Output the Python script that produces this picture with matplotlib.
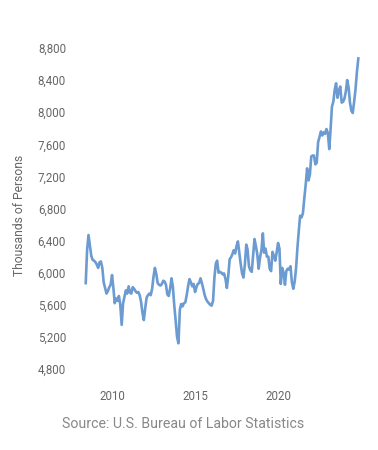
"""
Monthly employment level (thousands of persons), 2008-2024, single line chart.
"""

import numpy as np
import pandas as pd
import matplotlib
matplotlib.use('Agg')
import matplotlib.pyplot as plt
import matplotlib.dates as mdates
from matplotlib.ticker import FuncFormatter

plt.rcParams['font.family'] = ['Roboto', 'DejaVu Sans']

# Monthly values, starting June 2008
start_month = '2008-06'
values = [
    5870, 6280, 6470, 6340, 6210, 6160, 6150, 6130, 6100, 6060,
    6130, 6140, 6060, 5880, 5810, 5740, 5770, 5820, 5850, 5970,
    5800, 5620, 5680, 5650, 5710, 5600, 5350, 5620, 5700, 5780,
    5740, 5830, 5750, 5740, 5820, 5800, 5770, 5750, 5760, 5720,
    5640, 5500, 5410, 5560, 5690, 5720, 5740, 5720, 5800, 5950,
    6060, 5980, 5870, 5850, 5840, 5860, 5900, 5890, 5850, 5730,
    5710, 5800, 5930, 5820, 5590, 5400, 5200, 5120, 5540, 5610,
    5580, 5620, 5630, 5720, 5830, 5920, 5880, 5830, 5860, 5760,
    5820, 5860, 5870, 5930, 5870, 5800, 5720, 5670, 5640, 5620,
    5600, 5590, 5650, 5930, 6110, 6150, 6000, 6010, 6000, 5980,
    5990, 5920, 5810, 5960, 6170, 6190, 6230, 6280, 6240, 6330,
    6390, 6250, 6110, 5990, 5940, 6100, 6350, 6290, 6080, 6030,
    6010, 6220, 6420, 6330, 6230, 6050, 6190, 6280, 6490, 6250,
    6300, 6200, 6200, 6050, 6020, 6260, 6210, 6150, 6250, 6370,
    6300, 5860, 6060, 6000, 5850, 6020, 6050, 6040, 6080, 5880,
    5800, 5890, 6060, 6300, 6520, 6710, 6690, 6740, 6930, 7100,
    7300, 7150, 7220, 7450, 7460, 7460, 7350, 7370, 7630, 7690,
    7760, 7710, 7750, 7730, 7790, 7740, 7540, 7780, 8070, 8130,
    8280, 8360, 8180, 8270, 8320, 8120, 8130, 8170, 8260, 8400,
    8310, 8120, 8020, 7990, 8130, 8290, 8500, 8670,
]
y_ticks = [4800, 5200, 5600, 6000, 6400, 6800, 7200, 7600, 8000, 8400, 8800]
x_tick_years = [2010, 2015, 2020]
y_label = 'Thousands of Persons'
source = 'Source: U.S. Bureau of Labor Statistics'

dates = pd.date_range(start_month, periods=len(values), freq='MS')

W, H = 378, 450
fig = plt.figure(figsize=(W / 100, H / 100), dpi=100, facecolor='white')
# axes placed in pixel terms: left 80, right 365, top 48, bottom 369
ax = fig.add_axes([80 / W, (H - 369) / H, 285 / W, 321 / H])

ax.plot(dates, values, color='#6b9bd1', linewidth=1.9, solid_joinstyle='round')

ax.set_ylim(y_ticks[0], y_ticks[-1])
ax.set_yticks(y_ticks)
ax.yaxis.set_major_formatter(FuncFormatter(lambda v, p: f'{v:,.0f}'))
ax.set_xlim(pd.Timestamp('2008-01-27'), pd.Timestamp('2025-03-28'))
ax.set_xticks([pd.Timestamp(f'{y}-01-01') for y in x_tick_years])
ax.xaxis.set_major_formatter(mdates.DateFormatter('%Y'))

for s in ax.spines.values():
    s.set_visible(False)
ax.tick_params(axis='both', length=0, labelsize=8.3, labelcolor='#666666')
ax.tick_params(axis='y', pad=10)
ax.tick_params(axis='x', pad=15)

fig.text(20 / W, 1 - 215 / H, y_label, rotation=90, ha='center', va='center',
         fontsize=8.7, color='#666666')
fig.text(183 / W, 1 - 424 / H, source, ha='center', va='center',
         fontsize=10.2, color='#888888')

fig.savefig('out.png', dpi=100, facecolor='white')
